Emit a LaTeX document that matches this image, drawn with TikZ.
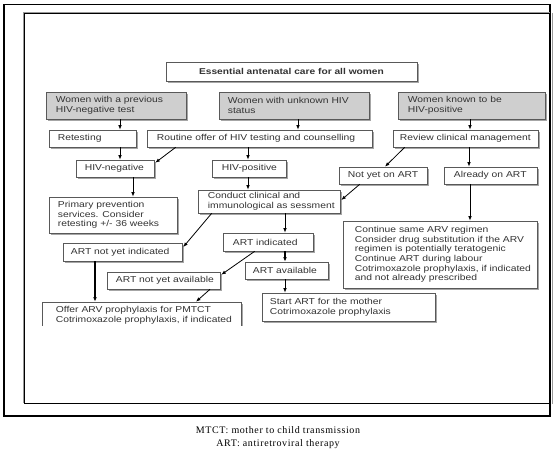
\documentclass[tikz,border=0pt]{standalone}
\usepackage{fontspec}
\setmainfont{Liberation Sans}
\newfontfamily\bxfont{Liberation Sans}[FakeStretch=1.2]
\newfontfamily\capfont{Liberation Serif}[LetterSpace=6]
\usetikzlibrary{arrows.meta,shadows}
\begin{document}
\begin{tikzpicture}[x=1pt,y=-1pt,
  box/.style={draw=black!65, line width=0.6pt, fill=white, inner sep=0pt,
    drop shadow={shadow xshift=1.6pt, shadow yshift=-1.6pt, fill=black!50, opacity=0.7}},
  gbox/.style={box, fill=black!19},
  txt/.style={anchor=west, inner sep=0pt, align=left, text=black!80,
    font=\bxfont\fontsize{8.6}{9.7}\selectfont},
  arr/.style={-{Latex[length=4.5pt,width=3.6pt]}, line width=0.8pt, black},
  thk/.style={arr, line width=1.6pt},
  capstyle/.style={inner sep=0pt, font=\capfont\fontsize{10}{12}\selectfont}
]
\useasboundingbox (0,0) rectangle (555,452);
% frames
\draw[line width=1.2pt] (4,4.5) rectangle (550,416);
\draw[black!40, line width=0.8pt] (23,403) -- (23,12.3) -- (550,12.3);
\draw[black!40, line width=0.8pt] (552,13) -- (552,404);
\draw[line width=0.9pt] (550,13.5) -- (24.5,13.5) -- (24.5,403.5) -- (550,403.5);

% title
\node[box, minimum width=251pt, minimum height=19pt] (title) at (291.5,71.5) {};
\node[txt, anchor=center, font=\bxfont\bfseries\fontsize{8.5}{9.7}\selectfont] (titlet) at (title.center) {Essential antenatal care for all women};

% gray boxes
\node[gbox, minimum width=140pt, minimum height=27pt] (g1) at (116,105.5) {};
\node[txt] (g1t) at ([xshift=10pt]g1.west) {Women with a previous\\HIV-negative test};
\node[gbox, minimum width=150pt, minimum height=27pt] (g2) at (294,105.5) {};
\node[txt] (g2t) at ([xshift=9pt]g2.west) {Women with unknown HIV\\status};
\node[gbox, minimum width=147pt, minimum height=27pt] (g3) at (471.5,105.5) {};
\node[txt] (g3t) at ([xshift=10pt]g3.west) {Women known to be\\HIV-positive};

% second row
\node[box, minimum width=87pt, minimum height=17pt] (ret) at (92.5,138.5) {};
\node[txt] (rett) at ([xshift=9pt]ret.west) {Retesting};
\node[box, minimum width=225pt, minimum height=17pt] (rout) at (259.5,138.5) {};
\node[txt] (routt) at ([xshift=10pt]rout.west) {Routine offer of HIV testing and counselling};
\node[box, minimum width=145pt, minimum height=17pt] (rev) at (465.5,138.5) {};
\node[txt] (revt) at ([xshift=7pt]rev.west) {Review clinical management};

% third row
\node[box, minimum width=78pt, minimum height=17pt] (neg) at (115,168.5) {};
\node[txt] (negt) at ([xshift=9pt]neg.west) {HIV-negative};
\node[box, minimum width=74pt, minimum height=17pt] (pos) at (249,168.5) {};
\node[txt] (post) at ([xshift=10pt]pos.west) {HIV-positive};
\node[box, minimum width=88pt, minimum height=17pt] (nyet) at (383,175.5) {};
\node[txt] (nyett) at ([xshift=9pt]nyet.west) {Not yet on ART};
\node[box, minimum width=93pt, minimum height=17pt] (alr) at (490.5,175.5) {};
\node[txt] (alrt) at ([xshift=10pt]alr.west) {Already on ART};

% fourth
\node[box, minimum width=142pt, minimum height=23pt] (cond) at (269,201.5) {};
\node[txt] (condt) at ([xshift=10pt]cond.west) {Conduct clinical and\\immunological as sessment};
\node[box, minimum width=128pt, minimum height=36pt] (prim) at (113,215) {};
\node[txt] (primt) at ([xshift=9pt]prim.west) {Primary prevention\\services. Consider\\retesting +/- 36 weeks};
\node[box, minimum width=194pt, minimum height=67pt] (cont) at (440,254.5) {};
\node[txt] (contt) at ([xshift=12pt]cont.west) {Continue same ARV regimen\\Consider drug substitution if the ARV\\regimen is potentially teratogenic\\Continue ART during labour\\Cotrimoxazole prophylaxis, if indicated\\and not already prescribed};

% lower
\node[box, minimum width=90pt, minimum height=18pt] (aind) at (268,242) {};
\node[txt] (aindt) at ([xshift=10pt]aind.west) {ART indicated};
\node[box, minimum width=119pt, minimum height=18pt] (anind) at (122.5,252) {};
\node[txt] (anindt) at ([xshift=8pt]anind.west) {ART not yet indicated};
\node[box, minimum width=83pt, minimum height=17pt] (aav) at (286.5,270.5) {};
\node[txt] (aavt) at ([xshift=8pt]aav.west) {ART available};
\node[box, minimum width=113pt, minimum height=17pt] (anav) at (163.5,280.5) {};
\node[txt] (anavt) at ([xshift=9pt]anav.west) {ART not yet available};
\node[box, minimum width=173pt, minimum height=28pt] (start) at (348.5,307) {};
\node[txt] (startt) at ([xshift=8pt]start.west) {Start ART for the mother\\Cotrimoxazole prophylaxis};
\begin{scope}
  \clip (0,0) rectangle (555,325.5);
  \node[box, minimum width=199pt, minimum height=28pt] (offer) at (141.5,316) {};
\end{scope}
\node[txt] (offert) at ([xshift=14pt,yshift=1pt]offer.west) {Offer ARV prophylaxis for PMTCT\\Cotrimoxazole prophylaxis, if indicated};

% arrows
\draw[arr] ([xshift=4pt]g1.south) -- ([xshift=27.5pt]ret.north);
\draw[arr] ([xshift=4pt]g2.south) -- ([xshift=38.5pt]rout.north);
\draw[arr] ([xshift=-1.5pt]g3.south) -- ([xshift=4.5pt]rev.north);
\draw[arr] ([xshift=27.5pt]ret.south) -- ([xshift=5pt]neg.north);
\draw[arr] ([xshift=29pt]rout.south west) -- ([xshift=1pt,yshift=-3pt]neg.north east);
\draw[arr] ([xshift=-11.5pt]rout.south) -- ([xshift=-1pt]pos.north);
\draw[arr] ([xshift=12pt]rev.south west) -- ([xshift=2pt]nyet.north);
\draw[arr] ([xshift=3.5pt]rev.south) -- ([xshift=-21.5pt]alr.north);
\draw[arr] ([xshift=21pt]nyet.south west) -- ([xshift=1pt,yshift=1.5pt]cond.east);
\draw[arr] ([xshift=18pt]neg.south) -- ([xshift=20pt]prim.north);
\draw[arr] ([xshift=-1pt]pos.south) -- ([xshift=-21pt]cond.north);
\draw[arr] ([xshift=-20.5pt]alr.south) -- ([xshift=30pt]cont.north);
\draw[arr] ([xshift=16pt]cond.south) -- ([xshift=17pt]aind.north);
\draw[arr] ([xshift=14pt]cond.south west) -- ([xshift=1pt,yshift=5pt]anind.east);
\draw[thk] ([xshift=17pt]aind.south) -- ([xshift=-1.5pt]aav.north);
\draw[arr] ([xshift=32pt]aind.south west) -- ([xshift=1pt,yshift=-3pt]anav.north east);
\draw[arr] ([xshift=-1.5pt]aav.south) -- ([xshift=-63.5pt]start.north);
\draw[thk] ([xshift=-27.5pt]anind.south) -- ([xshift=-46.5pt]offer.north);
\draw[arr] ([xshift=46.5pt]anav.south) -- ([xshift=54.5pt]offer.north);

% caption
\node[capstyle] (cap1) at (278,430) {MTCT: mother to child transmission};
\node[capstyle] (cap2) at (278,444) {ART: antiretroviral therapy};
\end{tikzpicture}
\end{document}
